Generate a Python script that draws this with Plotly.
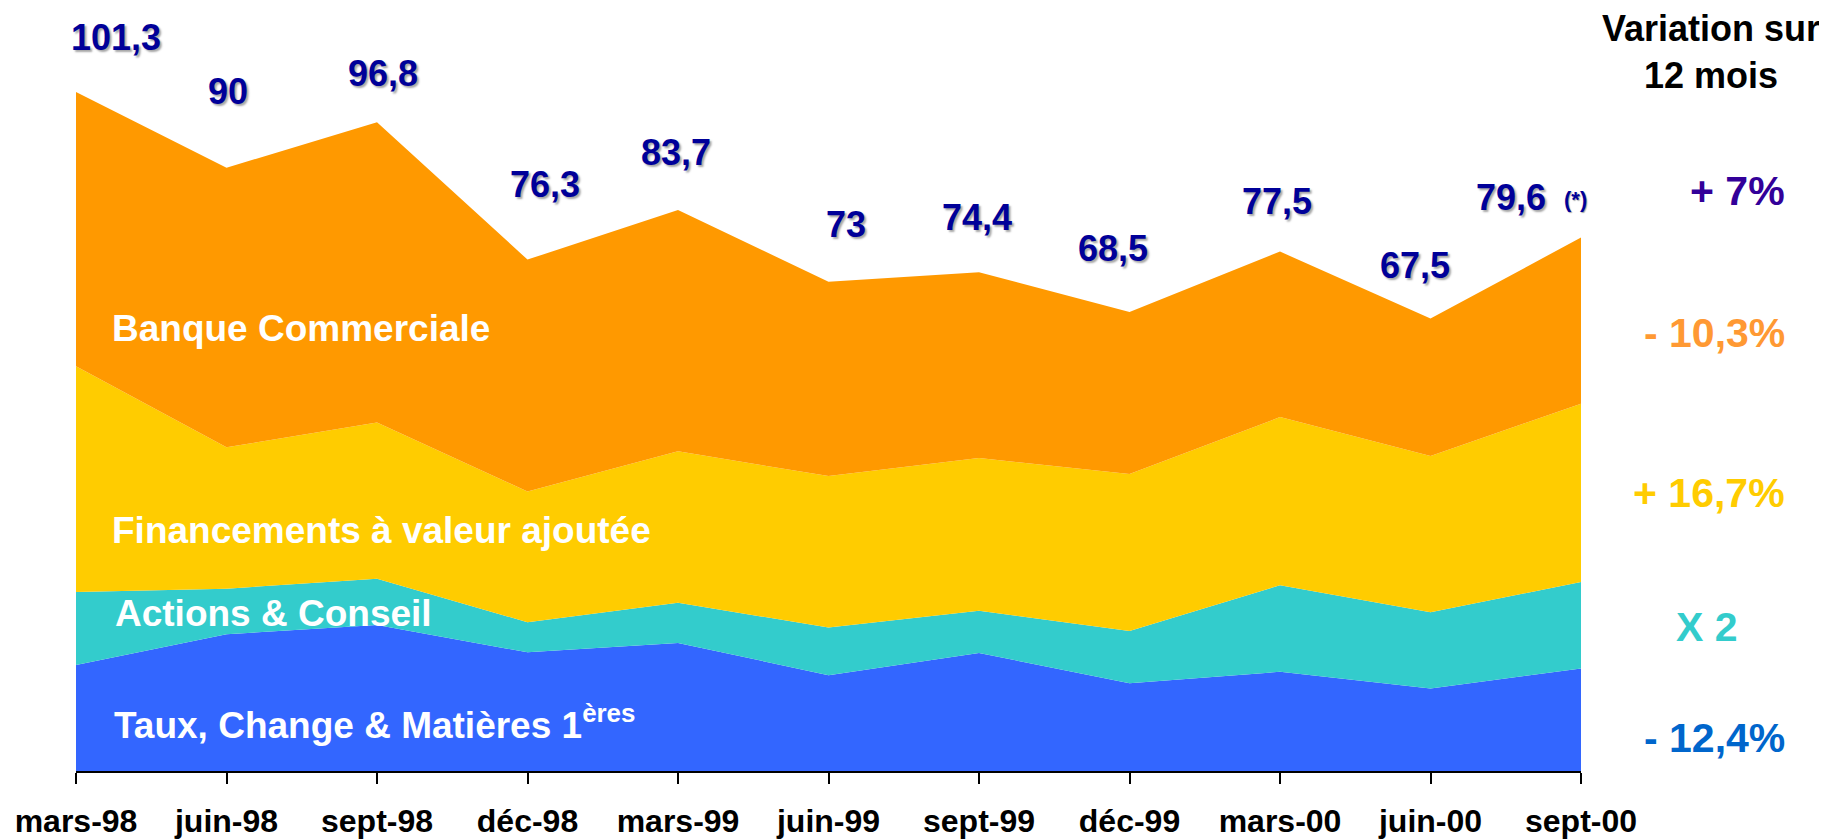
import plotly.graph_objects as go

# ---------------- data ----------------
periods = ["mars-98", "juin-98", "sept-98", "déc-98", "mars-99", "juin-99",
           "sept-99", "déc-99", "mars-00", "juin-00", "sept-00"]

taux = [15.8, 20.4, 21.8, 17.7, 19.1, 14.3, 17.6, 13.1, 14.8, 12.3, 15.3]
actions = [10.9, 6.8, 6.9, 4.5, 6.0, 7.1, 6.3, 7.8, 12.9, 11.4, 12.9]
financements = [33.7, 21.1, 23.3, 19.5, 22.6, 22.6, 22.8, 23.4, 25.1, 23.3, 26.6]
totals = [101.3, 90, 96.8, 76.3, 83.7, 73, 74.4, 68.5, 77.5, 67.5, 79.6]
total_labels = ["101,3", "90", "96,8", "76,3", "83,7", "73", "74,4", "68,5", "77,5", "67,5", "79,6"]
banque = [round(t - a - b - c, 1) for t, a, b, c in zip(totals, taux, actions, financements)]

series_names = ["Taux, Change & Matières 1ères", "Actions & Conseil",
                "Financements à valeur ajoutée", "Banque Commerciale"]
variations = ["- 12,4%", "X 2", "+ 16,7%", "- 10,3%", "+ 7%"]

# ---------------- style / layout ----------------
BODY = 8                      # default page margin around the plot div
W, H = 1827 - BODY, 839 - BODY
ML, MB, MT = 76 - BODY, 66, 0
MR = W - (1581 - BODY)
PW, PH = W - ML - MR, H - MT - MB
YMAX = PH / 6.72
FONT = "Liberation Sans, Arial, sans-serif"

colors = ["#3366FF", "#33CCCC", "#FFCC00", "#FF9900"]
var_colors = ["#0066CC", "#33CCCC", "#FFCC00", "#FF9933", "#330099"]

# label offsets (pixels) for total value labels
lab_dx = [40, 1, 6, 17, -2, 17, -2, -17, -3, -16, -70]
lab_dy = [55, 76, 49, 75, 58, 57, 55, 63, 50, 53, 40]


def px(xp):
    return (xp - BODY - ML) / PW


def py(yp):
    return (H - MB - (yp - BODY)) / PH


fig = go.Figure()
for name, vals, col in zip(series_names, [taux, actions, financements, banque], colors):
    fig.add_trace(go.Scatter(
        x=periods, y=vals, name=name, mode="lines", stackgroup="one",
        line=dict(width=0, color=col), fillcolor=col, hoverinfo="x+y+name"))

ann = []
for p, t, lab, dx, dy in zip(periods, totals, total_labels, lab_dx, lab_dy):
    ann.append(dict(x=p, y=t, xref="x", yref="y", text="<b>%s</b>" % lab, showarrow=False,
                    xshift=dx, yshift=dy, xanchor="center", yanchor="middle",
                    font=dict(family=FONT, size=36, color="#000099",
                              shadow="2px 2px 2px rgba(0,0,0,0.35)")))
# (*) note next to last value
ann.append(dict(x=periods[-1], y=totals[-1], xref="x", yref="y", text="<b>(*)</b>",
                showarrow=False, xshift=-6, yshift=38, xanchor="center", yanchor="middle",
                font=dict(family=FONT, size=22, color="#000099",
                          shadow="1px 1px 1px rgba(0,0,0,0.35)")))

# area labels
area_pos = [(112, 724), (113, 615), (110, 532), (110, 329)]
area_text = ["<b>Taux, Change & Matières 1<sup>ères</sup></b>", "<b>Actions & Conseil</b>",
             "<b>Financements à valeur ajoutée</b>", "<b>Banque Commerciale</b>"]
for (xp, yp), t in zip(area_pos, area_text):
    ann.append(dict(x=px(xp), y=py(yp), xref="paper", yref="paper", text=t, showarrow=False,
                    xanchor="left", yanchor="middle",
                    font=dict(family=FONT, size=37, color="white")))

# right header
ann.append(dict(x=px(1822), y=py(52), xref="paper", yref="paper",
                text="<b>Variation sur<br>12 mois</b>", showarrow=False,
                xanchor="right", yanchor="middle", align="center",
                font=dict(family=FONT, size=36, color="black")))

var_pos = [(1787, 740, "right"), (1707, 629, "center"), (1787, 494, "right"),
           (1787, 334, "right"), (1787, 191, "right")]
for (xp, yp, anc), t, c in zip(var_pos, variations, var_colors):
    ann.append(dict(x=px(xp), y=py(yp), xref="paper", yref="paper", text="<b>%s</b>" % t,
                    showarrow=False, xanchor=anc, yanchor="middle",
                    font=dict(family=FONT, size=41, color=c)))

fig.update_layout(
    width=W, height=H, margin=dict(l=ML, r=MR, t=MT, b=MB, pad=0),
    paper_bgcolor="white", plot_bgcolor="white", showlegend=False,
    annotations=ann,
    xaxis=dict(type="category", range=[0, len(periods) - 1], showgrid=False, zeroline=False,
               showline=True, linecolor="black", linewidth=2,
               ticks="outside", ticklen=11, tickwidth=2, tickcolor="black",
               ticklabelstandoff=10,
               tickfont=dict(family=FONT, size=32, color="black", weight="bold")),
    yaxis=dict(range=[0, YMAX], visible=False, showgrid=False, zeroline=False),
)

fig.write_html("out.html")
